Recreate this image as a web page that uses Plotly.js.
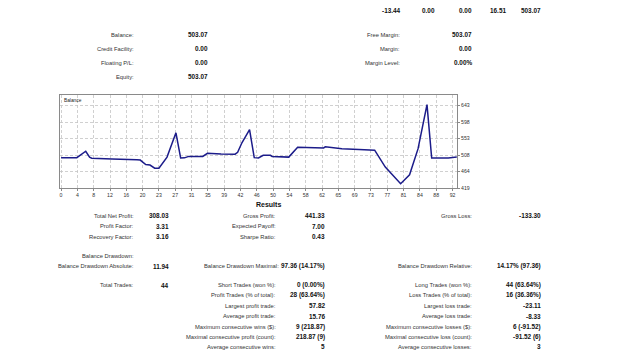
<!DOCTYPE html>
<html>
<head>
<meta charset="utf-8">
<script src="https://cdn.plot.ly/plotly-3.0.1.min.js"></script>
<style>
  html, body { margin: 0; padding: 0; background: #ffffff; }
  #chart { width: 625px; height: 360px; }
</style>
</head>
<body>
<div id="chart"></div>
<script>
// ---- balance curve (trade index vs. account balance) ----
const tradeIndex = [0, 3.7, 5.8, 6.7, 7.2, 11.5, 12, 17.8, 18.6, 19.9, 20.9, 22, 23, 24.9, 27, 28.1, 29, 30,
  33.3, 34.4, 37.2, 37.6, 40.9, 41.5, 42.5, 44.3, 45.4, 46.4, 47.5, 49.2, 49.6, 52.9, 53.5, 55.6, 57.4, 57.8,
  61.7, 62.1, 66, 70, 73.7, 76.2, 79.8, 81.9, 83.9, 86, 87.1, 91, 93];
const balance = [501.5, 501.5, 519, 502.6, 500, 500, 498, 496, 495, 483, 481.5, 473, 473, 503, 569, 500.8, 501, 505,
  505, 513.5, 513.5, 511.6, 511, 516, 542, 578, 501.6, 500.7, 508, 508, 505, 505, 503, 530, 530, 528,
  528, 531, 526, 524, 522, 476, 430.7, 455, 526, 646, 500.7, 500.7, 503.07];

const xTickLabels = ['0','4','8','12','16','20','23','27','31','35','39','42','46','50','54','58','62','65','69','73','77','81','84','88','92'];
const yTickLabels = ['419','464','508','553','598','643'];

// ---- summary texts ----
const topRowValues = ['-13.44', '0.00', '0.00', '16.51', '503.07'];

const accountLabels = ['Balance:', 'Credit Facility:', 'Floating P/L:', 'Equity:'];
const accountValues = ['503.07', '0.00', '0.00', '503.07'];

const marginLabels = ['Free Margin:', 'Margin:', 'Margin Level:'];
const marginValues = ['503.07', '0.00', '0.00%'];

const resultsTitle = 'Results';

const col1Labels = ['Total Net Profit:', 'Profit Factor:', 'Recovery Factor:', 'Balance Drawdown:', 'Balance Drawdown Absolute:', 'Total Trades:'];
const col1Values = ['308.03', '3.31', '3.16', '', '11.94', '44'];

const col2Labels = ['Gross Profit:', 'Expected Payoff:', 'Sharpe Ratio:', '', 'Balance Drawdown Maximal:',
  'Short Trades (won %):', 'Profit Trades (% of total):', 'Largest profit trade:', 'Average profit trade:',
  'Maximum consecutive wins ($):', 'Maximal consecutive profit (count):', 'Average consecutive wins:'];
const col2Values = ['441.33', '7.00', '0.43', '', '97.36 (14.17%)',
  '0 (0.00%)', '28 (63.64%)', '57.82', '15.76', '9 (218.87)', '218.87 (9)', '5'];

const col3Labels = ['Gross Loss:', '', '', '', 'Balance Drawdown Relative:',
  'Long Trades (won %):', 'Loss Trades (% of total):', 'Largest loss trade:', 'Average loss trade:',
  'Maximum consecutive losses ($):', 'Maximal consecutive loss (count):', 'Average consecutive losses:'];
const col3Values = ['-133.30', '', '', '', '14.17% (97.36)',
  '44 (63.64%)', '16 (36.36%)', '-23.11', '-8.33', '6 (-91.52)', '-91.52 (6)', '3'];

// ---- page geometry (pixels) ----
const W = 625, H = 360;
const plotLeft = 60, plotRight = 457, plotTop = 95, plotBottom = 188;
const FONT = 'Liberation Sans, Arial, sans-serif';

const annotations = [];
function put(px, py, text, size, bold, anchor, color) {
  if (!text) return;
  annotations.push({
    xref: 'paper', yref: 'paper',
    x: px / W, y: 1 - py / H,
    xanchor: anchor || 'right', yanchor: 'middle',
    text: bold ? '<b>' + text + '</b>' : text,
    showarrow: false,
    font: { family: FONT, size: size, color: color || (bold ? '#111' : '#333') }
  });
}
const LBL = 5.8, VAL = 6.4;

// top figures row
const topRowX = [402.7, 436.7, 474, 508.3, 542.7];
topRowValues.forEach((v, i) => put(topRowX[i], 10, v, VAL, true));

// account block
const accY = [34.7, 49, 62.7, 76.7];
accountLabels.forEach((t, i) => { put(136, accY[i], t, LBL, false); put(210, accY[i], accountValues[i], VAL, true); });
marginLabels.forEach((t, i) => { put(402.3, accY[i], t, LBL, false); put(474, accY[i], marginValues[i], VAL, true); });

// results block
put(268.5, 204.3, resultsTitle, 7, true, 'center');
const rowY = [215.7, 226, 236.7, 256, 266, 285, 295, 305.7, 316, 326.7, 336.7, 346.7];
const col1Rows = [0, 1, 2, 3, 4, 5];
col1Labels.forEach((t, i) => { const y = rowY[col1Rows[i]]; put(136, y, t, LBL, false); put(170.7, y, col1Values[i], VAL, true); });
col2Labels.forEach((t, i) => { put(i === 4 ? 280.5 : 278.3, rowY[i], t, LBL, false); put(326.7, rowY[i], col2Values[i], VAL, true); });
col3Labels.forEach((t, i) => { put(474.3, rowY[i], t, LBL, false); put(543.3, rowY[i], col3Values[i], VAL, true); });

// chart caption inside the plot
put(62, 100, 'Balance', 4.8, false, 'left', '#222');

const xTickVals = xTickLabels.map((_, i) => i * 92 / (xTickLabels.length - 1));
const yTickVals = yTickLabels.map((_, i) => 419 + i * 44.8);

const trace = {
  x: tradeIndex, y: balance,
  type: 'scatter', mode: 'lines',
  line: { color: '#1c1c8a', width: 1.5 },
  hoverinfo: 'skip'
};

const axisCommon = {
  showgrid: true, gridcolor: '#c4c4c4', griddash: '3px,2px', gridwidth: 0.8,
  zeroline: false,
  showline: true, linecolor: '#8a8a8a', linewidth: 1, mirror: true,
  ticks: 'outside', ticklen: 2, tickcolor: '#8a8a8a',
  tickfont: { family: FONT, size: 5.2, color: '#333' }
};

const layout = {
  width: W, height: H,
  margin: { l: 0, r: 0, t: 0, b: 0, pad: 0 },
  paper_bgcolor: '#ffffff', plot_bgcolor: '#ffffff',
  showlegend: false,
  xaxis: Object.assign({}, axisCommon, {
    domain: [plotLeft / W, plotRight / W],
    range: [-0.25, 93.05],
    tickvals: xTickVals, ticktext: xTickLabels
  }),
  yaxis: Object.assign({}, axisCommon, {
    domain: [1 - plotBottom / H, 1 - plotTop / H],
    range: [419, 672],
    side: 'right',
    tickvals: yTickVals, ticktext: yTickLabels
  }),
  annotations: annotations
};

Plotly.newPlot('chart', [trace], layout, { staticPlot: true, displayModeBar: false });
</script>
</body>
</html>
